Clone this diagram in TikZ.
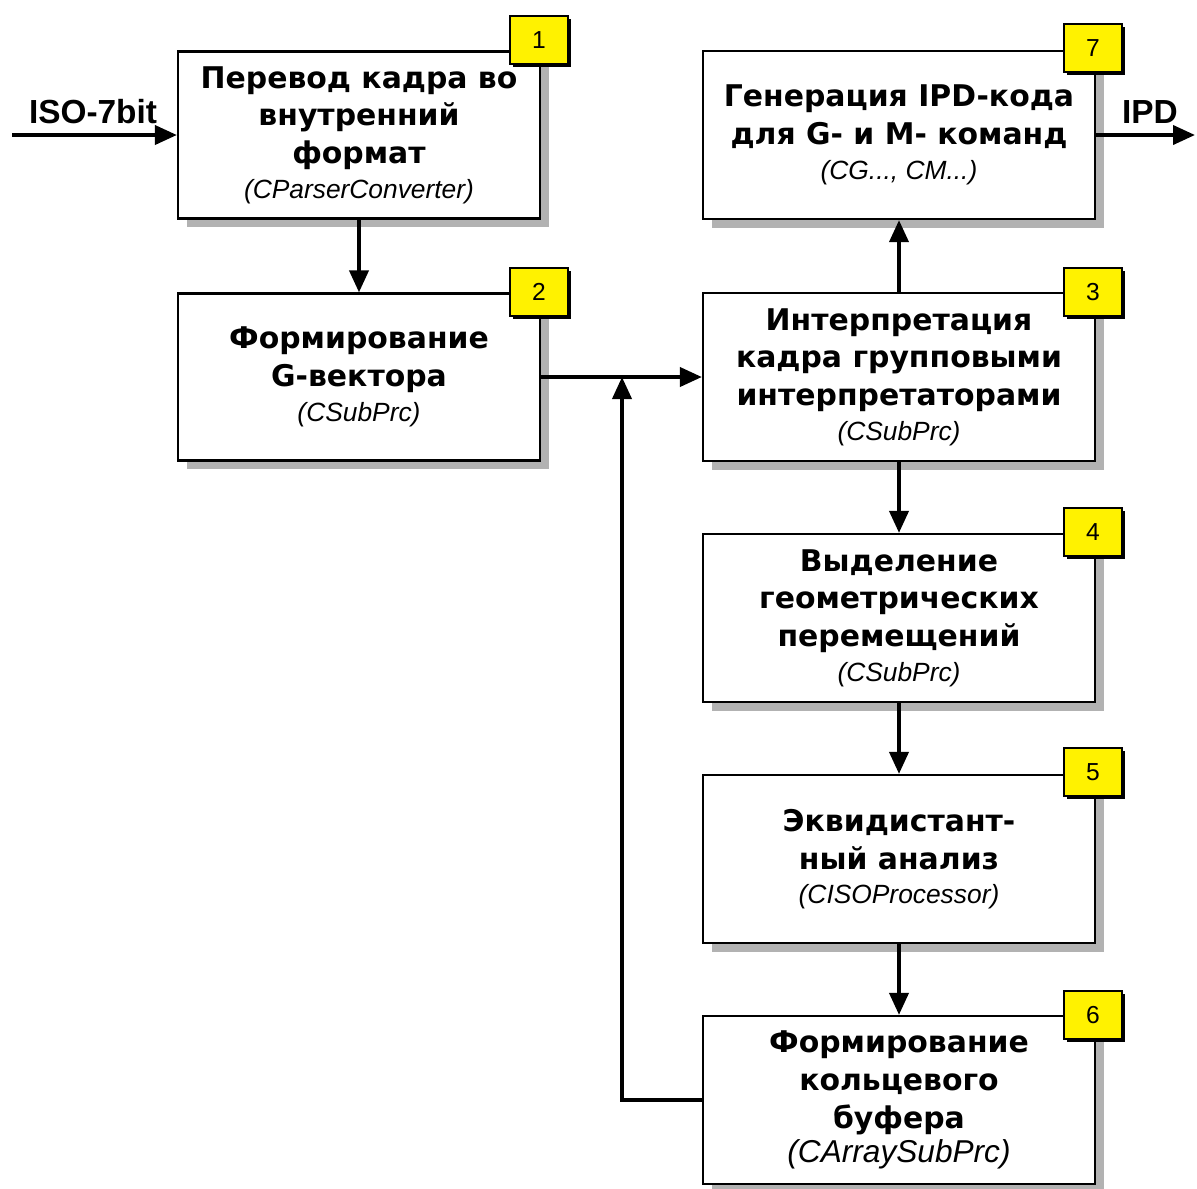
\documentclass[tikz,border=0pt]{standalone}
\usepackage{fontspec}
\setmainfont{DejaVu Sans}
\newfontfamily\lsans{Liberation Sans}
\usetikzlibrary{arrows.meta,shadows}
\tikzset{
  proc/.style={draw=black, line width=1.3pt, fill=white, align=center, inner sep=0pt,
    font=\bfseries\fontsize{17}{21.6}\selectfont,
    drop shadow={shadow xshift=0.18cm, shadow yshift=-0.18cm, fill=black!30, opacity=1}},
  lproc/.style={proc, minimum width=7.24cm, minimum height=3.34cm},
  rproc/.style={proc, minimum width=7.84cm, minimum height=3.36cm},
  tag/.style={draw=black, line width=1.6pt, fill=yellow, minimum width=1.16cm, minimum height=0.96cm,
    inner sep=0pt, font=\lsans\fontsize{14}{14}\selectfont,
    drop shadow={shadow xshift=0.05cm, shadow yshift=-0.05cm, fill=black, opacity=1}},
  conn/.style={line width=2.2pt, -{Triangle[length=0.44cm,width=0.38cm]}},
  iolbl/.style={font=\lsans\bfseries\fontsize{19}{19}\selectfont, inner sep=0pt}
}
\newcommand{\cls}[1]{{\lsans\mdseries\itshape\fontsize{15}{18}\selectfont #1}}
\begin{document}
\begin{tikzpicture}[x=0.02cm,y=-0.02cm]
\useasboundingbox[fill=white] (0,0) rectangle (1197,1188);

\node[lproc] (b1) at (359,135) {Перевод кадра во\\внутренний\\формат\\[-2pt]\cls{(CParserConverter)}};
\node[lproc] (b2) at (359,377) {Формирование\\G-вектора\\[-2pt]\cls{(CSubPrc)}};
\node[rproc] (b7) at (899,135) {Генерация IPD-кода\\для G- и M- команд\\[-2pt]\cls{(CG..., CM...)}};
\node[rproc] (b3) at (899,377) {Интерпретация\\кадра групповыми\\интерпретаторами\\[-2pt]\cls{(CSubPrc)}};
\node[rproc] (b4) at (899,618) {Выделение\\геометрических\\перемещений\\[-2pt]\cls{(CSubPrc)}};
\node[rproc] (b5) at (899,859) {Эквидистант-\\ный анализ\\[-2pt]\cls{(CISOProcessor)}};
\node[rproc] (b6) at (899,1100) {Формирование\\кольцевого\\буфера\\[-2pt]{\lsans\mdseries\itshape\fontsize{18}{20}\selectfont (CArraySubPrc)}};

\node[tag] (t1) at (539,40) {1};
\node[tag] (t2) at (539,292) {2};
\node[tag] (t7) at (1093,48) {7};
\node[tag] (t3) at (1093,292) {3};
\node[tag] (t4) at (1093,532) {4};
\node[tag] (t5) at (1093,772) {5};
\node[tag] (t6) at (1093,1015) {6};

\coordinate (in) at (12,135);
\coordinate (out) at (1195,135);
\coordinate (jn) at (622,377);
\node[iolbl] (isol) at (93,112) {ISO-7bit};
\node[iolbl] (ipdl) at (1150,112) {IPD};

\draw[conn] (in) -- (b1.west);
\draw[conn] (b7.east) -- (out);
\draw[conn] (b1) -- (b2);
\draw[conn] (b2) -- (b3);
\draw[conn] (b3) -- (b7);
\draw[conn] (b3) -- (b4);
\draw[conn] (b4) -- (b5);
\draw[conn] (b5) -- (b6);
\draw[conn] (b6.west) -| (jn);
\end{tikzpicture}
\end{document}
